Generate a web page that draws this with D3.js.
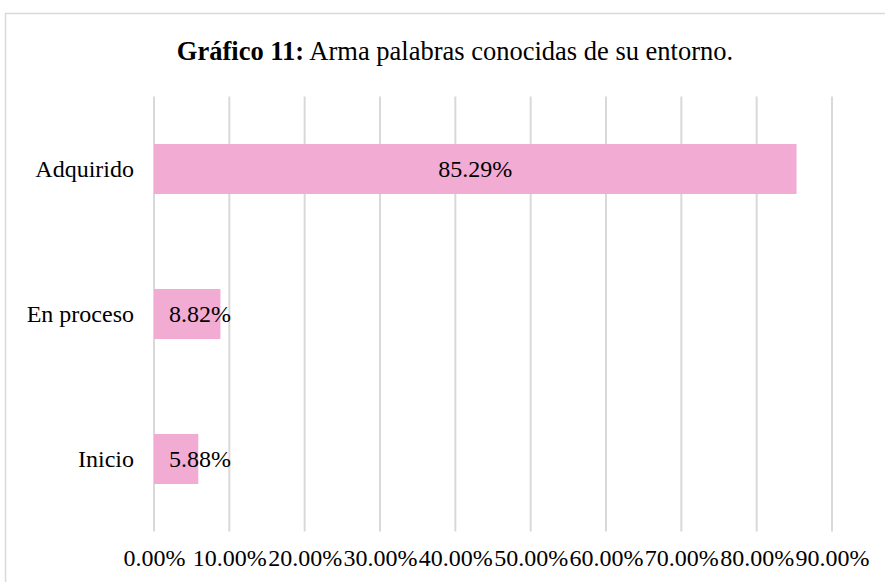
<!DOCTYPE html>
<html>
<head>
<meta charset="utf-8">
<script src="https://cdn.jsdelivr.net/npm/d3@7"></script>
<style>
  body { margin: 0; background: #fff; }
  text { font-family: "Liberation Serif", "Times New Roman", serif; fill: #000; }
</style>
</head>
<body>
<script>
let w = 885;
let h = 582;

// data
let categories = ["Adquirido", "En proceso", "Inicio"];
let values = [0.8529, 0.0882, 0.0588];
let tickValues = [0, 0.1, 0.2, 0.3, 0.4, 0.5, 0.6, 0.7, 0.8, 0.9];

let svg = d3.select("body")
            .append("svg")
            .attr("width", w)
            .attr("height", h);

// chart frame
svg.append("rect")
   .attr("x", 5.5)
   .attr("y", 13.5)
   .attr("width", 900)
   .attr("height", 600)
   .attr("fill", "none")
   .attr("stroke", "#d9d9d9")
   .attr("stroke-width", 1.5);

let title = svg.append("text")
   .attr("x", 455)
   .attr("y", 60)
   .attr("text-anchor", "middle")
   .style("font-size", "26.5px");
title.append("tspan").attr("font-weight", "bold").text("Gráfico 11:");
title.append("tspan").text(" Arma palabras conocidas de su entorno.");

let x = d3.scaleLinear().domain([0, 0.9]).range([154, 832]);
let y = d3.scaleBand()
          .domain(categories)
          .range([96.5, 531.5])
          .paddingInner(0.655)
          .paddingOuter(0.3275);

// vertical gridlines
svg.selectAll("line.grid")
   .data(tickValues)
   .enter()
   .append("line")
     .attr("class", "grid")
     .attr("x1", d => x(d))
     .attr("x2", d => x(d))
     .attr("y1", 96.5)
     .attr("y2", 531.5)
     .attr("stroke", "#d9d9d9")
     .attr("stroke-width", 2);

// x tick labels
let xAxis = d3.axisBottom(x)
              .tickValues(tickValues)
              .tickSize(0)
              .tickPadding(0)
              .tickFormat(d => (d * 100).toFixed(2) + "%");
let gx = svg.append("g").attr("transform", "translate(0,549)").call(xAxis);
gx.select(".domain").remove();
gx.selectAll("text").style("font-size", "24px").attr("dy", "0.71em");

// category labels
let yAxis = d3.axisLeft(y).tickSize(0).tickPadding(0);
let gy = svg.append("g").attr("transform", "translate(134,0)").call(yAxis);
gy.select(".domain").remove();
gy.selectAll("text").style("font-size", "24px");

svg.selectAll("rect.bar")
   .data(values)
   .enter()
   .append("rect")
     .attr("class", "bar")
     .attr("x", x(0))
     .attr("y", (d, i) => y(categories[i]))
     .attr("width", d => x(d) - x(0))
     .attr("height", y.bandwidth())
     .attr("fill", "#f2abd3");

svg.selectAll("text.label")
   .data(values)
   .enter()
   .append("text")
     .attr("class", "label")
     .attr("x", d => Math.max((x(0) + x(d)) / 2, x(0) + 46))
     .attr("y", (d, i) => y(categories[i]) + y.bandwidth() / 2)
     .attr("dy", "0.35em")
     .attr("text-anchor", "middle")
     .style("font-size", "24px")
     .text(d => (d * 100).toFixed(2) + "%");
</script>
</body>
</html>
